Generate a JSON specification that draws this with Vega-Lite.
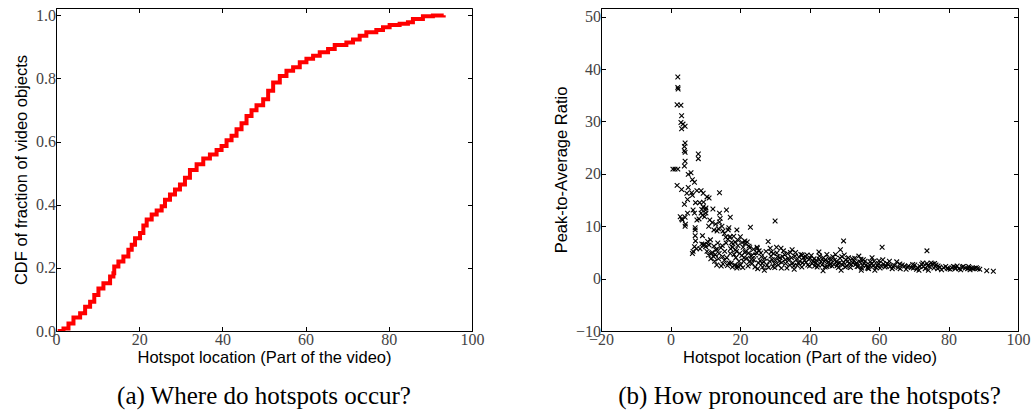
{
  "$schema": "https://vega.github.io/schema/vega-lite/v6.json",
  "background": "white",
  "padding": {"left": 13, "top": 6, "right": 5, "bottom": 2},
  "bounds": "flush",
  "spacing": 129,
  "datasets": {
    "cdf": [
      {"location": 0.4, "cdf": 0.0}, {"location": 1.8, "cdf": 0.008}, {"location": 3.0, "cdf": 0.024}, {"location": 4.2, "cdf": 0.043},
      {"location": 5.8, "cdf": 0.056}, {"location": 7.0, "cdf": 0.077}, {"location": 8.2, "cdf": 0.093}, {"location": 9.2, "cdf": 0.114},
      {"location": 10.2, "cdf": 0.135}, {"location": 11.4, "cdf": 0.151}, {"location": 13.0, "cdf": 0.173}, {"location": 13.8, "cdf": 0.183},
      {"location": 14.0, "cdf": 0.204}, {"location": 15.0, "cdf": 0.22}, {"location": 16.2, "cdf": 0.236}, {"location": 17.4, "cdf": 0.257},
      {"location": 18.2, "cdf": 0.273}, {"location": 19.0, "cdf": 0.294}, {"location": 20.2, "cdf": 0.31}, {"location": 21.0, "cdf": 0.334},
      {"location": 21.8, "cdf": 0.353}, {"location": 23.0, "cdf": 0.369}, {"location": 24.2, "cdf": 0.382}, {"location": 25.4, "cdf": 0.395},
      {"location": 26.2, "cdf": 0.416}, {"location": 27.4, "cdf": 0.432}, {"location": 28.6, "cdf": 0.448}, {"location": 29.8, "cdf": 0.464},
      {"location": 31.0, "cdf": 0.485}, {"location": 32.2, "cdf": 0.51}, {"location": 33.8, "cdf": 0.528}, {"location": 35.4, "cdf": 0.546},
      {"location": 37.0, "cdf": 0.559}, {"location": 38.6, "cdf": 0.573}, {"location": 39.8, "cdf": 0.586}, {"location": 41.0, "cdf": 0.604},
      {"location": 42.2, "cdf": 0.618}, {"location": 43.4, "cdf": 0.639}, {"location": 44.6, "cdf": 0.658}, {"location": 45.8, "cdf": 0.681},
      {"location": 47.0, "cdf": 0.699}, {"location": 48.2, "cdf": 0.715}, {"location": 49.8, "cdf": 0.734}, {"location": 51.0, "cdf": 0.761},
      {"location": 52.2, "cdf": 0.787}, {"location": 53.8, "cdf": 0.808}, {"location": 55.4, "cdf": 0.824}, {"location": 57.0, "cdf": 0.835},
      {"location": 58.6, "cdf": 0.851}, {"location": 60.2, "cdf": 0.862}, {"location": 61.8, "cdf": 0.872}, {"location": 63.4, "cdf": 0.883},
      {"location": 65.4, "cdf": 0.893}, {"location": 67.0, "cdf": 0.906}, {"location": 69.8, "cdf": 0.914}, {"location": 71.4, "cdf": 0.923},
      {"location": 73.0, "cdf": 0.935}, {"location": 74.6, "cdf": 0.946}, {"location": 77.0, "cdf": 0.953}, {"location": 78.6, "cdf": 0.962},
      {"location": 80.2, "cdf": 0.969}, {"location": 82.6, "cdf": 0.973}, {"location": 84.6, "cdf": 0.978}, {"location": 85.8, "cdf": 0.988},
      {"location": 88.2, "cdf": 0.997}, {"location": 90.6, "cdf": 0.999}, {"location": 93.2, "cdf": 1.0}
    ],
    "pts": [
      {"location": 2.1, "ratio": 38.5}, {"location": 2.1, "ratio": 36.5}, {"location": 2.2, "ratio": 36.2}, {"location": 1.9, "ratio": 33.2},
      {"location": 3.0, "ratio": 33.1}, {"location": 3.2, "ratio": 31.1}, {"location": 3.0, "ratio": 29.8}, {"location": 3.6, "ratio": 29.5},
      {"location": 3.2, "ratio": 28.6}, {"location": 4.2, "ratio": 29.1}, {"location": 4.2, "ratio": 25.9}, {"location": 4.0, "ratio": 25.2},
      {"location": 4.0, "ratio": 24.4}, {"location": 4.2, "ratio": 24.1}, {"location": 4.2, "ratio": 22.4}, {"location": 4.0, "ratio": 21.5},
      {"location": 0.7, "ratio": 20.9}, {"location": 1.3, "ratio": 20.9}, {"location": 2.1, "ratio": 20.9}, {"location": 8.0, "ratio": 23.8},
      {"location": 8.0, "ratio": 22.9}, {"location": 1.9, "ratio": 17.8}, {"location": 3.2, "ratio": 17.0}, {"location": 5.1, "ratio": 19.9},
      {"location": 5.9, "ratio": 20.2}, {"location": 6.3, "ratio": 18.9}, {"location": 6.9, "ratio": 18.4}, {"location": 5.1, "ratio": 17.4},
      {"location": 4.7, "ratio": 16.3}, {"location": 6.1, "ratio": 16.4}, {"location": 6.3, "ratio": 15.9}, {"location": 7.6, "ratio": 16.8},
      {"location": 8.8, "ratio": 16.8}, {"location": 9.4, "ratio": 16.3}, {"location": 4.0, "ratio": 14.2}, {"location": 4.9, "ratio": 15.1},
      {"location": 7.2, "ratio": 14.5}, {"location": 8.4, "ratio": 14.5}, {"location": 9.5, "ratio": 14.6}, {"location": 10.5, "ratio": 15.6},
      {"location": 11.1, "ratio": 15.4}, {"location": 14.1, "ratio": 16.4}, {"location": 9.4, "ratio": 13.7}, {"location": 9.0, "ratio": 13.2},
      {"location": 10.1, "ratio": 13.1}, {"location": 12.2, "ratio": 13.3}, {"location": 16.1, "ratio": 13.1}, {"location": 17.2, "ratio": 11.7},
      {"location": 6.5, "ratio": 13.1}, {"location": 2.8, "ratio": 11.8}, {"location": 3.2, "ratio": 11.4}, {"location": 4.2, "ratio": 11.7},
      {"location": 3.4, "ratio": 11.2}, {"location": 4.9, "ratio": 12.5}, {"location": 4.3, "ratio": 10.4}, {"location": 4.2, "ratio": 10.0},
      {"location": 6.9, "ratio": 12.5}, {"location": 7.6, "ratio": 11.2}, {"location": 8.2, "ratio": 11.4}, {"location": 8.8, "ratio": 12.5},
      {"location": 10.2, "ratio": 12.5}, {"location": 14.1, "ratio": 12.5}, {"location": 14.3, "ratio": 11.5}, {"location": 14.1, "ratio": 10.8},
      {"location": 12.0, "ratio": 10.7}, {"location": 13.0, "ratio": 10.4}, {"location": 11.3, "ratio": 11.2}, {"location": 30.1, "ratio": 11.0},
      {"location": 23.0, "ratio": 9.8}, {"location": 16.8, "ratio": 9.7}, {"location": 19.1, "ratio": 9.3}, {"location": 7.1, "ratio": 9.7},
      {"location": 7.1, "ratio": 9.3}, {"location": 7.1, "ratio": 8.2}, {"location": 9.2, "ratio": 8.2}, {"location": 13.4, "ratio": 9.1},
      {"location": 15.1, "ratio": 9.1}, {"location": 15.9, "ratio": 7.9}, {"location": 17.2, "ratio": 8.0}, {"location": 18.2, "ratio": 8.1},
      {"location": 20.1, "ratio": 8.0}, {"location": 21.4, "ratio": 7.2}, {"location": 22.1, "ratio": 7.0}, {"location": 7.2, "ratio": 7.2},
      {"location": 6.9, "ratio": 6.1}, {"location": 7.5, "ratio": 5.7}, {"location": 6.3, "ratio": 4.8}, {"location": 9.5, "ratio": 6.5},
      {"location": 10.1, "ratio": 6.1}, {"location": 10.7, "ratio": 7.1}, {"location": 11.1, "ratio": 6.4}, {"location": 11.8, "ratio": 4.8},
      {"location": 12.4, "ratio": 4.2}, {"location": 13.4, "ratio": 5.6}, {"location": 14.0, "ratio": 4.8}, {"location": 15.0, "ratio": 4.2},
      {"location": 15.1, "ratio": 2.8}, {"location": 16.2, "ratio": 4.0}, {"location": 17.2, "ratio": 4.8}, {"location": 17.8, "ratio": 6.0},
      {"location": 18.7, "ratio": 5.5}, {"location": 19.1, "ratio": 2.4}, {"location": 19.1, "ratio": 2.0}, {"location": 19.9, "ratio": 4.8},
      {"location": 20.9, "ratio": 6.0}, {"location": 21.4, "ratio": 5.0}, {"location": 22.0, "ratio": 3.9}, {"location": 22.7, "ratio": 3.2},
      {"location": 23.2, "ratio": 4.3}, {"location": 23.9, "ratio": 5.6}, {"location": 24.9, "ratio": 6.0}, {"location": 25.5, "ratio": 5.3},
      {"location": 25.1, "ratio": 1.9}, {"location": 26.2, "ratio": 4.2}, {"location": 26.4, "ratio": 2.9}, {"location": 27.0, "ratio": 1.6},
      {"location": 28.1, "ratio": 7.1}, {"location": 28.7, "ratio": 5.8}, {"location": 29.7, "ratio": 4.8}, {"location": 29.9, "ratio": 2.9},
      {"location": 30.8, "ratio": 4.2}, {"location": 31.8, "ratio": 5.8}, {"location": 32.5, "ratio": 5.3}, {"location": 33.1, "ratio": 2.9},
      {"location": 33.9, "ratio": 3.9}, {"location": 35.0, "ratio": 5.5}, {"location": 35.6, "ratio": 1.8}, {"location": 36.2, "ratio": 3.6},
      {"location": 37.0, "ratio": 4.1}, {"location": 37.9, "ratio": 4.5}, {"location": 38.9, "ratio": 4.2}, {"location": 39.8, "ratio": 3.7},
      {"location": 40.8, "ratio": 2.9}, {"location": 41.8, "ratio": 3.0}, {"location": 42.7, "ratio": 5.1}, {"location": 42.9, "ratio": 4.3},
      {"location": 43.9, "ratio": 1.5}, {"location": 44.6, "ratio": 3.6}, {"location": 45.0, "ratio": 4.6}, {"location": 46.0, "ratio": 2.9},
      {"location": 46.7, "ratio": 4.2}, {"location": 47.5, "ratio": 4.6}, {"location": 48.1, "ratio": 2.9}, {"location": 48.9, "ratio": 5.5},
      {"location": 49.1, "ratio": 1.6}, {"location": 49.8, "ratio": 7.2}, {"location": 50.4, "ratio": 3.6}, {"location": 51.4, "ratio": 2.9},
      {"location": 52.3, "ratio": 3.8}, {"location": 53.3, "ratio": 2.7}, {"location": 54.2, "ratio": 4.3}, {"location": 54.9, "ratio": 1.6},
      {"location": 55.7, "ratio": 2.9}, {"location": 56.9, "ratio": 2.3}, {"location": 58.0, "ratio": 4.0}, {"location": 58.8, "ratio": 1.6},
      {"location": 59.8, "ratio": 2.9}, {"location": 60.9, "ratio": 6.0}, {"location": 61.1, "ratio": 3.6}, {"location": 62.3, "ratio": 2.9},
      {"location": 63.2, "ratio": 2.3}, {"location": 65.1, "ratio": 3.2}, {"location": 66.1, "ratio": 1.9}, {"location": 67.4, "ratio": 2.4},
      {"location": 69.9, "ratio": 2.0}, {"location": 71.5, "ratio": 1.6}, {"location": 72.8, "ratio": 2.3}, {"location": 73.8, "ratio": 5.3},
      {"location": 74.2, "ratio": 1.6}, {"location": 75.5, "ratio": 2.8}, {"location": 76.9, "ratio": 1.9}, {"location": 78.6, "ratio": 2.1},
      {"location": 79.9, "ratio": 1.9}, {"location": 81.4, "ratio": 2.3}, {"location": 83.0, "ratio": 1.9}, {"location": 84.3, "ratio": 2.3},
      {"location": 85.5, "ratio": 1.9}, {"location": 86.6, "ratio": 2.0}, {"location": 88.4, "ratio": 1.9}, {"location": 91.0, "ratio": 1.5},
      {"location": 92.9, "ratio": 1.4},
      {"location": 12.5, "ratio": 6.2}, {"location": 13.0, "ratio": 5.5}, {"location": 13.8, "ratio": 3.8}, {"location": 14.5, "ratio": 5.9},
      {"location": 15.5, "ratio": 3.5}, {"location": 16.0, "ratio": 6.8}, {"location": 16.5, "ratio": 7.5}, {"location": 17.0, "ratio": 7.9},
      {"location": 17.5, "ratio": 3.0}, {"location": 18.0, "ratio": 6.6}, {"location": 18.5, "ratio": 2.6}, {"location": 19.0, "ratio": 5.2},
      {"location": 19.5, "ratio": 7.3}, {"location": 20.5, "ratio": 4.4}, {"location": 21.0, "ratio": 3.3}, {"location": 21.5, "ratio": 6.7},
      {"location": 22.5, "ratio": 4.9}, {"location": 23.5, "ratio": 2.9}, {"location": 24.0, "ratio": 3.6}, {"location": 24.5, "ratio": 4.5},
      {"location": 25.0, "ratio": 5.8}, {"location": 25.8, "ratio": 3.4}, {"location": 26.5, "ratio": 2.2}, {"location": 27.2, "ratio": 3.9},
      {"location": 27.8, "ratio": 2.6}, {"location": 28.5, "ratio": 3.3}, {"location": 29.0, "ratio": 5.1}, {"location": 29.5, "ratio": 2.3},
      {"location": 30.2, "ratio": 3.5}, {"location": 30.5, "ratio": 6.0}, {"location": 31.0, "ratio": 2.6}, {"location": 31.5, "ratio": 4.0},
      {"location": 32.0, "ratio": 3.1}, {"location": 32.8, "ratio": 4.6}, {"location": 33.5, "ratio": 2.0}, {"location": 34.0, "ratio": 3.5},
      {"location": 34.5, "ratio": 5.0}, {"location": 35.2, "ratio": 3.0}, {"location": 35.8, "ratio": 4.3}, {"location": 36.5, "ratio": 2.5},
      {"location": 37.2, "ratio": 3.3}, {"location": 37.8, "ratio": 2.2}, {"location": 38.3, "ratio": 4.0}, {"location": 39.0, "ratio": 3.1},
      {"location": 39.5, "ratio": 2.6}, {"location": 40.2, "ratio": 3.9}, {"location": 41.0, "ratio": 3.3}, {"location": 41.5, "ratio": 2.4},
      {"location": 42.0, "ratio": 3.5}, {"location": 42.5, "ratio": 2.6}, {"location": 43.3, "ratio": 3.2}, {"location": 44.0, "ratio": 4.0},
      {"location": 44.5, "ratio": 2.2}, {"location": 45.3, "ratio": 3.1}, {"location": 45.8, "ratio": 2.5}, {"location": 46.3, "ratio": 3.6},
      {"location": 47.0, "ratio": 2.7}, {"location": 47.8, "ratio": 3.3}, {"location": 48.3, "ratio": 2.1}, {"location": 48.8, "ratio": 3.9},
      {"location": 49.5, "ratio": 2.6}, {"location": 50.0, "ratio": 4.5}, {"location": 50.7, "ratio": 2.4}, {"location": 51.0, "ratio": 3.3},
      {"location": 51.8, "ratio": 2.1}, {"location": 52.5, "ratio": 3.0}, {"location": 53.0, "ratio": 3.9}, {"location": 53.7, "ratio": 2.3},
      {"location": 54.5, "ratio": 3.2}, {"location": 55.0, "ratio": 2.0}, {"location": 55.5, "ratio": 3.6}, {"location": 56.3, "ratio": 2.6},
      {"location": 57.0, "ratio": 1.9}, {"location": 57.5, "ratio": 3.2}, {"location": 58.3, "ratio": 2.4}, {"location": 59.2, "ratio": 2.1},
      {"location": 60.0, "ratio": 3.4}, {"location": 60.5, "ratio": 2.5}, {"location": 61.7, "ratio": 2.2}, {"location": 62.8, "ratio": 2.7},
      {"location": 63.8, "ratio": 1.9}, {"location": 64.5, "ratio": 2.5}, {"location": 65.5, "ratio": 2.1}, {"location": 66.7, "ratio": 2.6},
      {"location": 67.8, "ratio": 1.8}, {"location": 68.5, "ratio": 2.4}, {"location": 69.3, "ratio": 2.1}, {"location": 70.3, "ratio": 2.6},
      {"location": 70.8, "ratio": 1.8}, {"location": 71.8, "ratio": 2.3}, {"location": 72.3, "ratio": 2.7}, {"location": 73.3, "ratio": 1.9},
      {"location": 73.8, "ratio": 2.9}, {"location": 74.6, "ratio": 2.3}, {"location": 75.0, "ratio": 3.0}, {"location": 75.8, "ratio": 2.0},
      {"location": 76.4, "ratio": 2.6}, {"location": 77.5, "ratio": 2.2}, {"location": 78.0, "ratio": 1.7}, {"location": 79.2, "ratio": 2.3},
      {"location": 80.5, "ratio": 1.8}, {"location": 81.0, "ratio": 2.1}, {"location": 82.0, "ratio": 1.9}, {"location": 82.5, "ratio": 2.4},
      {"location": 83.5, "ratio": 1.7}, {"location": 84.8, "ratio": 2.0}, {"location": 85.8, "ratio": 2.3}, {"location": 86.2, "ratio": 1.7},
      {"location": 87.5, "ratio": 2.0}, {"location": 89.0, "ratio": 1.8},
      {"location": 6.5, "ratio": 5.2}, {"location": 8.5, "ratio": 5.7}, {"location": 9.0, "ratio": 6.6}, {"location": 9.8, "ratio": 6.4},
      {"location": 10.5, "ratio": 5.2}, {"location": 11.5, "ratio": 7.4}, {"location": 12.0, "ratio": 5.0}, {"location": 10.9, "ratio": 4.5},
      {"location": 11.6, "ratio": 3.8}, {"location": 12.7, "ratio": 3.3}, {"location": 13.3, "ratio": 2.6}, {"location": 14.6, "ratio": 2.4},
      {"location": 16.8, "ratio": 3.0}, {"location": 17.8, "ratio": 2.2}, {"location": 19.5, "ratio": 2.3}, {"location": 18.8, "ratio": 4.0},
      {"location": 20.2, "ratio": 2.6}, {"location": 9.2, "ratio": 12.1}, {"location": 9.8, "ratio": 11.8}, {"location": 10.2, "ratio": 13.5},
      {"location": 11.0, "ratio": 10.0}, {"location": 12.5, "ratio": 9.3}, {"location": 13.8, "ratio": 9.5}, {"location": 14.8, "ratio": 10.0},
      {"location": 15.5, "ratio": 8.6}, {"location": 16.6, "ratio": 9.3}, {"location": 17.6, "ratio": 6.9}, {"location": 18.6, "ratio": 7.0},
      {"location": 19.4, "ratio": 6.3}, {"location": 20.6, "ratio": 6.9}, {"location": 21.6, "ratio": 5.2}, {"location": 22.8, "ratio": 5.9},
      {"location": 23.6, "ratio": 4.5},
      {"location": 12.9, "ratio": 4.6}, {"location": 13.6, "ratio": 6.8}, {"location": 14.9, "ratio": 6.3}, {"location": 15.6, "ratio": 5.2},
      {"location": 16.4, "ratio": 2.5}, {"location": 17.3, "ratio": 5.7}, {"location": 18.3, "ratio": 4.6}, {"location": 19.7, "ratio": 3.3},
      {"location": 20.8, "ratio": 2.1}, {"location": 21.2, "ratio": 4.0}, {"location": 22.3, "ratio": 2.4}, {"location": 22.6, "ratio": 6.2},
      {"location": 23.3, "ratio": 3.7}, {"location": 24.3, "ratio": 2.2}, {"location": 24.7, "ratio": 5.0}, {"location": 25.3, "ratio": 3.0},
      {"location": 26.0, "ratio": 4.9}, {"location": 26.8, "ratio": 3.2}, {"location": 27.5, "ratio": 5.2}, {"location": 28.2, "ratio": 2.1},
      {"location": 28.9, "ratio": 4.3}, {"location": 29.3, "ratio": 3.6}, {"location": 30.0, "ratio": 2.1}, {"location": 30.6, "ratio": 4.9},
      {"location": 31.3, "ratio": 3.3}, {"location": 31.9, "ratio": 2.0}, {"location": 32.3, "ratio": 4.2}, {"location": 33.0, "ratio": 3.6},
      {"location": 33.7, "ratio": 4.8}, {"location": 34.3, "ratio": 2.6}, {"location": 34.8, "ratio": 4.0}, {"location": 35.5, "ratio": 2.4},
      {"location": 36.0, "ratio": 5.0}, {"location": 36.8, "ratio": 3.0}, {"location": 37.5, "ratio": 4.6}, {"location": 38.0, "ratio": 3.0},
      {"location": 38.6, "ratio": 3.5}, {"location": 39.3, "ratio": 4.5}, {"location": 40.0, "ratio": 2.4}, {"location": 40.5, "ratio": 4.4},
      {"location": 41.3, "ratio": 3.8}, {"location": 42.2, "ratio": 2.2}, {"location": 42.8, "ratio": 3.7}, {"location": 43.6, "ratio": 2.6},
      {"location": 44.3, "ratio": 3.3}, {"location": 45.0, "ratio": 2.3}, {"location": 45.6, "ratio": 3.8}, {"location": 46.5, "ratio": 2.4},
      {"location": 47.2, "ratio": 3.5}, {"location": 48.0, "ratio": 2.5}, {"location": 48.6, "ratio": 3.0}, {"location": 49.3, "ratio": 4.2},
      {"location": 49.8, "ratio": 3.1}, {"location": 50.3, "ratio": 2.2}, {"location": 51.2, "ratio": 4.0}, {"location": 52.0, "ratio": 2.7},
      {"location": 52.8, "ratio": 3.4}, {"location": 53.5, "ratio": 3.0}, {"location": 54.0, "ratio": 2.3}, {"location": 54.8, "ratio": 3.7},
      {"location": 55.3, "ratio": 2.5}, {"location": 56.0, "ratio": 3.3}, {"location": 56.7, "ratio": 2.0}, {"location": 57.3, "ratio": 2.6},
      {"location": 58.0, "ratio": 2.9}, {"location": 58.6, "ratio": 3.3}, {"location": 59.5, "ratio": 2.5}, {"location": 60.3, "ratio": 2.0},
      {"location": 61.3, "ratio": 2.8}, {"location": 62.0, "ratio": 2.4}, {"location": 63.0, "ratio": 3.3}, {"location": 64.0, "ratio": 2.3},
      {"location": 66.0, "ratio": 2.8}, {"location": 68.2, "ratio": 2.2}, {"location": 69.7, "ratio": 2.7}, {"location": 71.1, "ratio": 2.1},
      {"location": 72.6, "ratio": 3.0}, {"location": 74.0, "ratio": 2.5}, {"location": 76.0, "ratio": 2.9}, {"location": 77.0, "ratio": 2.4},
      {"location": 79.6, "ratio": 2.0}, {"location": 81.8, "ratio": 2.2}, {"location": 84.0, "ratio": 2.2}, {"location": 86.0, "ratio": 2.1},
      {"location": 87.0, "ratio": 1.9}, {"location": 88.0, "ratio": 2.1}
    ]
  },
  "hconcat": [
    {
      "width": 416,
      "height": 323,
      "title": {"text": "(a) Where do hotspots occur?", "orient": "bottom", "anchor": "middle", "font": "Liberation Serif", "fontSize": 25, "fontWeight": "normal", "color": "black", "offset": 18},
      "data": {"name": "cdf"},
      "layer": [
        {
          "mark": {"type": "line", "color": "#ff0000", "strokeWidth": 4, "interpolate": "step-after", "clip": true},
          "encoding": {
            "x": {"field": "location", "type": "quantitative", "scale": {"domain": [0, 100], "nice": false, "zero": false},
                  "axis": {"orient": "bottom", "values": [0, 20, 40, 60, 80, 100], "title": "Hotspot location (Part of the video)"}},
            "y": {"field": "cdf", "type": "quantitative", "scale": {"domain": [0, 1.023], "nice": false},
                  "axis": {"orient": "left", "values": [0, 0.2, 0.4, 0.6, 0.8, 1.0], "format": ".1f", "title": "CDF of fraction of video objects"}}
          }
        },
        {
          "mark": {"type": "line", "opacity": 0},
          "encoding": {
            "x": {"field": "location", "type": "quantitative", "axis": {"orient": "top", "values": [0, 20, 40, 60, 80, 100], "labels": false, "title": null, "domain": false}},
            "y": {"field": "cdf", "type": "quantitative", "axis": {"orient": "right", "values": [0, 0.2, 0.4, 0.6, 0.8, 1.0], "labels": false, "title": null, "domain": false}}
          }
        }
      ],
      "resolve": {"axis": {"x": "independent", "y": "independent"}}
    },
    {
      "width": 417,
      "height": 323,
      "title": {"text": "(b) How pronounced are the hotspots?", "orient": "bottom", "anchor": "middle", "font": "Liberation Serif", "fontSize": 25, "fontWeight": "normal", "color": "black", "offset": 18},
      "data": {"name": "pts"},
      "layer": [
        {
          "mark": {"type": "point", "shape": "M-1,-1L1,1M-1,1L1,-1", "size": 22, "filled": false, "stroke": "black", "strokeWidth": 1.1, "opacity": 1},
          "encoding": {
            "x": {"field": "location", "type": "quantitative", "scale": {"domain": [-20, 100], "nice": false, "zero": false},
                  "axis": {"orient": "bottom", "values": [-20, 0, 20, 40, 60, 80, 100], "title": "Hotspot location (Part of the video)"}},
            "y": {"field": "ratio", "type": "quantitative", "scale": {"domain": [-10, 51.66], "nice": false, "zero": false},
                  "axis": {"orient": "left", "values": [-10, 0, 10, 20, 30, 40, 50], "title": "Peak-to-Average Ratio"}}
          }
        },
        {
          "mark": {"type": "point", "opacity": 0},
          "encoding": {
            "x": {"field": "location", "type": "quantitative", "axis": {"orient": "top", "values": [-20, 0, 20, 40, 60, 80, 100], "labels": false, "title": null, "domain": false}},
            "y": {"field": "ratio", "type": "quantitative", "axis": {"orient": "right", "values": [-10, 0, 10, 20, 30, 40, 50], "labels": false, "title": null, "domain": false}}
          }
        }
      ],
      "resolve": {"axis": {"x": "independent", "y": "independent"}}
    }
  ],
  "config": {
    "view": {"stroke": "black", "strokeWidth": 1},
    "axis": {
      "grid": false,
      "domainColor": "black",
      "tickColor": "black",
      "tickSize": -4.5,
      "labelFont": "Liberation Serif",
      "labelFontSize": 16,
      "labelColor": "#444444",
      "labelPadding": 5,
      "labelFlush": false,
      "labelOverlap": false,
      "labelBound": false,
      "titleFont": "Liberation Sans",
      "titleFontSize": 16.5,
      "titleFontWeight": "normal",
      "titleColor": "black"
    },
    "axisX": {"titlePadding": 2},
    "axisY": {"titlePadding": 6}
  }
}
